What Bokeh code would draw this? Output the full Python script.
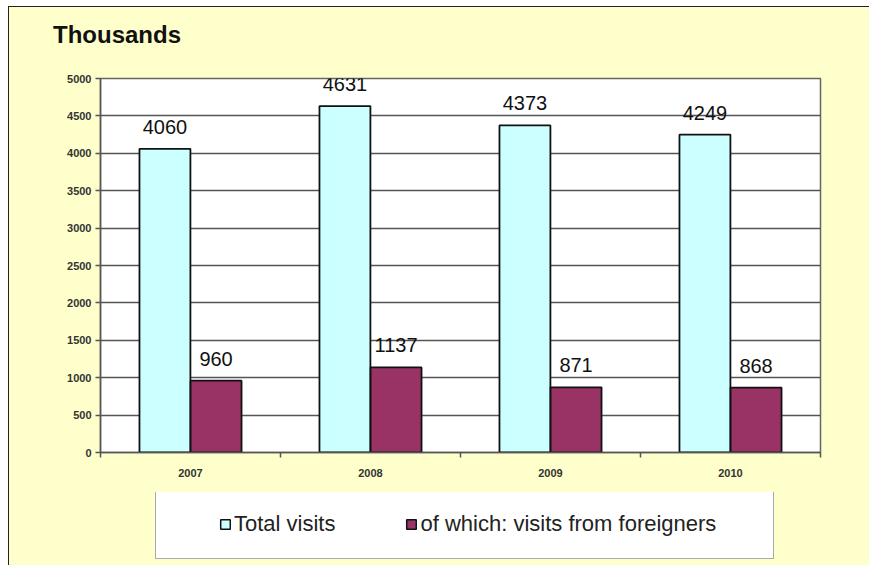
from bokeh.plotting import figure
from bokeh.layouts import column
from bokeh.models import (ColumnDataSource, Range1d, LinearAxis, FixedTicker, LabelSet, Div,
                          Legend, LegendItem)
from bokeh.transform import dodge
from bokeh.core.properties import value
from bokeh.embed import file_html
from bokeh.resources import INLINE

title_text = "Thousands"
years = ["2007", "2008", "2009", "2010"]
total_visits = [4060, 4631, 4373, 4249]
foreign_visits = [960, 1137, 871, 868]
y_ticks = [0, 500, 1000, 1500, 2000, 2500, 3000, 3500, 4000, 4500, 5000]
series_names = ["Total visits", "of which: visits from foreigners"]

FONT = "Liberation Sans"
CYAN = "#CCFFFF"
MAROON = "#993366"
BG = "#FFFFCC"

n = len(years)
centers = [i + 0.5 for i in range(n)]      # category slot centres
edges = [i for i in range(n + 1)]          # category slot boundaries

src = ColumnDataSource(dict(
    pos=centers, total=total_visits, foreign=foreign_visits,
    total_lbl=[str(v) for v in total_visits],
    foreign_lbl=[str(v) for v in foreign_visits],
))

# ---------------- title ----------------
title = Div(text=("<div style=\"padding:16px 0 0 44px; font-family:'Liberation Sans';"
                  "font-size:24px; font-weight:bold; color:#111111; line-height:24px;"
                  "white-space:nowrap;\">%s</div>" % title_text),
            width=860, height=40, margin=0)

# ---------------- main chart ----------------
p = figure(width=860, height=445, x_range=Range1d(0, n), y_range=Range1d(0, 5000),
           output_backend="svg", toolbar_location=None, x_axis_location=None,
           min_border_left=91, min_border_top=31, min_border_right=49, min_border_bottom=40,
           background_fill_color="white", border_fill_color=BG,
           outline_line_color="#666666", outline_line_width=1.5)

xaxis = LinearAxis(ticker=FixedTicker(ticks=centers, minor_ticks=edges),
                   major_label_overrides={c: y for c, y in zip(centers, years)},
                   axis_line_color="#555555", axis_line_width=1.5,
                   major_tick_line_color=None, major_tick_out=0, major_tick_in=0,
                   minor_tick_line_color="#555555", minor_tick_line_width=1.5,
                   minor_tick_out=5, minor_tick_in=0, major_label_standoff=11,
                   major_label_text_font=FONT, major_label_text_font_size="11px",
                   major_label_text_font_style="bold", major_label_text_color="#333333")
p.add_layout(xaxis, "below")

p.yaxis.ticker = FixedTicker(ticks=y_ticks, minor_ticks=[])
p.yaxis.axis_line_color = "#555555"
p.yaxis.axis_line_width = 1.5
p.yaxis.major_tick_line_color = "#555555"
p.yaxis.major_tick_line_width = 1.5
p.yaxis.major_tick_out = 5
p.yaxis.major_tick_in = 0
p.yaxis.minor_tick_line_color = None
p.yaxis.major_label_standoff = 4
p.yaxis.major_label_text_font = FONT
p.yaxis.major_label_text_font_size = "11px"
p.yaxis.major_label_text_font_style = "bold"
p.yaxis.major_label_text_color = "#333333"

p.xgrid.grid_line_color = None
p.ygrid.grid_line_color = "#555555"
p.ygrid.grid_line_width = 1.5

p.vbar(x=dodge("pos", -0.142), top="total", width=0.283, source=src,
       fill_color=CYAN, line_color="#111111", line_width=1.8)
p.vbar(x=dodge("pos", 0.142), top="foreign", width=0.283, source=src,
       fill_color=MAROON, line_color="#111111", line_width=1.8)

for col, lbl, off in (("total", "total_lbl", -0.142), ("foreign", "foreign_lbl", 0.142)):
    ls = LabelSet(x=dodge("pos", off), y=col, text=lbl, source=src,
                  text_align="center", text_baseline="alphabetic", y_offset=15,
                  text_font=value(FONT), text_font_size="20px", text_color="#111111")
    p.add_layout(ls)

# ---------------- legend strip ----------------
lf = figure(width=860, height=73, output_backend="svg", toolbar_location=None,
            x_range=Range1d(0, 1), y_range=Range1d(0, 1),
            x_axis_location=None, y_axis_location=None,
            min_border_left=91, min_border_right=49, min_border_top=0, min_border_bottom=0,
            background_fill_color=BG, border_fill_color=BG, outline_line_color=None)
lf.xgrid.grid_line_color = None
lf.ygrid.grid_line_color = None
g1 = lf.vbar(x="pos", top="total", width=0.283, source=src, fill_color=CYAN,
             line_color="#111111", line_width=1.5, visible=False)
g2 = lf.vbar(x="pos", top="foreign", width=0.283, source=src, fill_color=MAROON,
             line_color="#111111", line_width=1.5, visible=False)
legend = Legend(items=[LegendItem(label=series_names[0], renderers=[g1]),
                       LegendItem(label=series_names[1], renderers=[g2])],
                orientation="horizontal", location=(55, 6),
                label_text_font=FONT, label_text_font_size="22px", label_text_color="#222222",
                glyph_width=12, glyph_height=12, label_standoff=3, spacing=70,
                border_line_color="#555555", border_line_width=1.5,
                background_fill_color="white", background_fill_alpha=1.0, margin=0)
try:
    legend.padding = (63, 57, 21, 21)
except Exception:
    legend.padding = 21
lf.add_layout(legend)

layout = column(title, p, lf, spacing=0)
layout.styles = {"margin-left": "8px", "margin-top": "6px", "background-color": BG,
                 "border-left": "1px solid #222222", "border-top": "1px solid #222222"}

open("out.html", "w").write(file_html(layout, INLINE))
